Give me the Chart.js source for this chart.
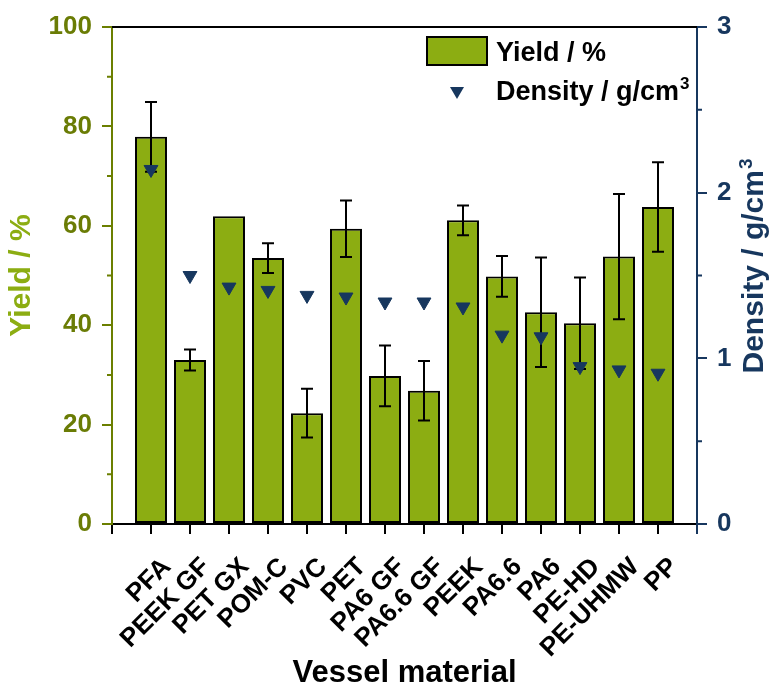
<!DOCTYPE html>
<html>
<head>
<meta charset="utf-8">
<script src="https://cdn.jsdelivr.net/npm/chart.js@4.4.1/dist/chart.umd.min.js"></script>
<style>
  html, body { margin: 0; padding: 0; background: #ffffff; }
  #wrap { width: 776px; height: 687px; position: relative; }
</style>
</head>
<body>
<div id="wrap"><canvas id="c" width="776" height="687"></canvas></div>
<script>
// Vessel materials along the x axis
const materials = ['PFA', 'PEEK GF', 'PET GX', 'POM-C', 'PVC', 'PET', 'PA6 GF', 'PA6.6 GF',
                   'PEEK', 'PA6.6', 'PA6', 'PE-HD', 'PE-UHMW', 'PP'];
// Yield in % with its error (half range), 0 = no error bar
const yieldPct = [77.9, 33.0, 61.9, 53.5, 22.3, 59.4, 29.8, 26.8, 61.1, 49.8, 42.6, 40.4, 53.8, 63.8];
const yieldErr = [7.0, 2.1, 0, 3.0, 4.9, 5.7, 6.1, 6.0, 3.0, 4.1, 11.0, 9.2, 12.6, 9.0];
// Material density in g/cm3
const densityGcm3 = [2.14, 1.50, 1.43, 1.41, 1.38, 1.37, 1.34, 1.34, 1.31, 1.14, 1.13, 0.95, 0.93, 0.91];

const FONT = "'Liberation Sans', Arial, Helvetica, sans-serif";
const GREEN = '#8cad12';
const OLIVE = '#6b7f00';
const OLIVE_TXT = '#6a7c05';
const NAVY = '#17375e';

// one empty slot on each side so the first/last bars sit a full step from the axes
const labels = ['', ...materials, ''];
const padded = arr => [null, ...arr, null];
const barData = padded(yieldPct);
const errData = padded(yieldErr);
const densData = padded(densityGcm3);

Chart.defaults.font.family = FONT;

// error bars on top of the yield bars (drawn before the density markers)
const errorBars = {
  id: 'errorBars',
  afterDatasetDraw(chart, args) {
    if (args.index !== 0) return;
    const ctx = chart.ctx;
    const ys = chart.scales.y;
    ctx.save();
    ctx.strokeStyle = '#000';
    ctx.lineWidth = 2;
    args.meta.data.forEach((bar, i) => {
      const e = errData[i];
      const v = barData[i];
      if (!e || v == null) return;
      const top = ys.getPixelForValue(v + e);
      const bot = ys.getPixelForValue(v - e);
      const x = bar.x;
      ctx.beginPath();
      ctx.moveTo(x, top); ctx.lineTo(x, bot);
      ctx.moveTo(x - 6, top); ctx.lineTo(x + 6, top);
      ctx.moveTo(x - 6, bot); ctx.lineTo(x + 6, bot);
      ctx.stroke();
    });
    ctx.restore();
  }
};

// text with a raised "3" (g/cm3), left edge at x, baseline at y
function drawUnitText(ctx, main, size, supSize, rise, x, y) {
  ctx.textAlign = 'left';
  ctx.textBaseline = 'alphabetic';
  ctx.font = 'bold ' + size + 'px ' + FONT;
  ctx.fillText(main, x, y);
  const w = ctx.measureText(main).width;
  ctx.font = 'bold ' + supSize + 'px ' + FONT;
  ctx.fillText('3', x + w + 1, y - rise);
}
function unitTextWidth(ctx, main, size, supSize) {
  ctx.font = 'bold ' + size + 'px ' + FONT;
  const w = ctx.measureText(main).width;
  ctx.font = 'bold ' + supSize + 'px ' + FONT;
  return w + 1 + ctx.measureText('3').width;
}

// minor ticks, top frame line, right axis title and the legend box
const decorations = {
  id: 'decorations',
  afterDraw(chart) {
    const ctx = chart.ctx;
    const a = chart.chartArea;
    ctx.save();

    // top frame
    ctx.strokeStyle = '#000';
    ctx.lineWidth = 2;
    ctx.beginPath();
    ctx.moveTo(a.left, a.top);
    ctx.lineTo(a.right, a.top);
    ctx.stroke();

    // minor ticks halfway between major ticks
    const minor = (scale, x0, x1, color) => {
      const t = scale.ticks;
      ctx.strokeStyle = color;
      ctx.lineWidth = 2;
      ctx.beginPath();
      for (let i = 0; i < t.length - 1; i++) {
        const py = scale.getPixelForValue((t[i].value + t[i + 1].value) / 2);
        ctx.moveTo(x0, py); ctx.lineTo(x1, py);
      }
      ctx.stroke();
    };
    minor(chart.scales.y, a.left - 5, a.left, OLIVE);
    minor(chart.scales.y2, a.right, a.right + 5, NAVY);

    // right axis title, reading bottom to top
    ctx.fillStyle = NAVY;
    ctx.translate(763, 266);
    ctx.rotate(-Math.PI / 2);
    const tw = unitTextWidth(ctx, 'Density / g/cm', 30, 19);
    drawUnitText(ctx, 'Density / g/cm', 30, 19, 11, -tw / 2, 0);
    ctx.setTransform(1, 0, 0, 1, 0, 0);

    // legend
    ctx.fillStyle = GREEN;
    ctx.fillRect(427, 37, 60, 28);
    ctx.strokeStyle = '#000';
    ctx.lineWidth = 2;
    ctx.strokeRect(427, 37, 60, 28);
    ctx.fillStyle = NAVY;
    ctx.beginPath();
    ctx.moveTo(457 - 7, 87);
    ctx.lineTo(457 + 7, 87);
    ctx.lineTo(457, 99);
    ctx.closePath();
    ctx.fill();
    ctx.fillStyle = '#000';
    ctx.font = 'bold 27px ' + FONT;
    ctx.textAlign = 'left';
    ctx.textBaseline = 'alphabetic';
    ctx.fillText('Yield / %', 496, 60.5);
    drawUnitText(ctx, 'Density / g/cm', 27, 17, 11, 496, 99.5);

    ctx.restore();
  }
};

new Chart(document.getElementById('c'), {
  data: {
    labels: labels,
    datasets: [
      {
        type: 'bar',
        label: 'Yield / %',
        data: barData,
        yAxisID: 'y',
        order: 2,
        backgroundColor: GREEN,
        borderColor: '#000',
        borderWidth: 2,
        borderSkipped: false,
        barPercentage: 0.82,
        categoryPercentage: 1.0
      },
      {
        type: 'line',
        label: 'Density / g/cm\u00B3',
        data: densData,
        yAxisID: 'y2',
        order: 1,
        showLine: false,
        pointStyle: 'triangle',
        pointRotation: 180,
        pointRadius: 8,
        pointBackgroundColor: NAVY,
        pointBorderColor: NAVY,
        pointBorderWidth: 1
      }
    ]
  },
  options: {
    responsive: false,
    animation: false,
    events: [],
    devicePixelRatio: 1,
    layout: { padding: { top: 27, left: 0, right: 0, bottom: 0 } },
    plugins: {
      legend: { display: false },
      tooltip: { enabled: false }
    },
    scales: {
      x: {
        type: 'category',
        offset: false,
        grid: {
          display: true, offset: false, drawOnChartArea: false, drawTicks: true, tickLength: 10,
          color: '#000', lineWidth: 2,
          tickColor: c => (c.index === labels.length - 1 ? NAVY : '#000')
        },
        border: { display: true, color: '#000', width: 2 },
        ticks: {
          autoSkip: false, maxRotation: 45, minRotation: 45, padding: 15, labelOffset: 16,
          color: '#000',
          font: { size: 26, weight: 'bold', lineHeight: 1.5 }
        },
        title: {
          display: true, text: 'Vessel material', color: '#000', padding: 0,
          font: { size: 31, weight: 'bold', lineHeight: 0.9 }
        },
        afterFit(s) { s.height = 163; }
      },
      y: {
        position: 'left',
        min: 0, max: 100,
        ticks: { stepSize: 20, color: OLIVE_TXT, padding: 10, font: { size: 26, weight: 'bold' } },
        grid: { display: true, drawOnChartArea: false, drawTicks: true, tickLength: 10, color: OLIVE, lineWidth: 2 },
        border: { display: true, color: OLIVE, width: 2 },
        title: {
          display: true, text: 'Yield / %', color: GREEN, padding: { top: 4, bottom: 0 },
          font: { size: 30, weight: 'bold' }
        },
        afterFit(s) { s.width = 112; }
      },
      y2: {
        position: 'right',
        min: 0, max: 3,
        ticks: { stepSize: 1, color: NAVY, padding: 10, font: { size: 26, weight: 'bold' } },
        grid: { display: true, drawOnChartArea: false, drawTicks: true, tickLength: 10, color: NAVY, lineWidth: 2 },
        border: { display: true, color: NAVY, width: 2 },
        afterFit(s) { s.width = 79; }
      }
    }
  },
  plugins: [errorBars, decorations]
});
</script>
</body>
</html>
